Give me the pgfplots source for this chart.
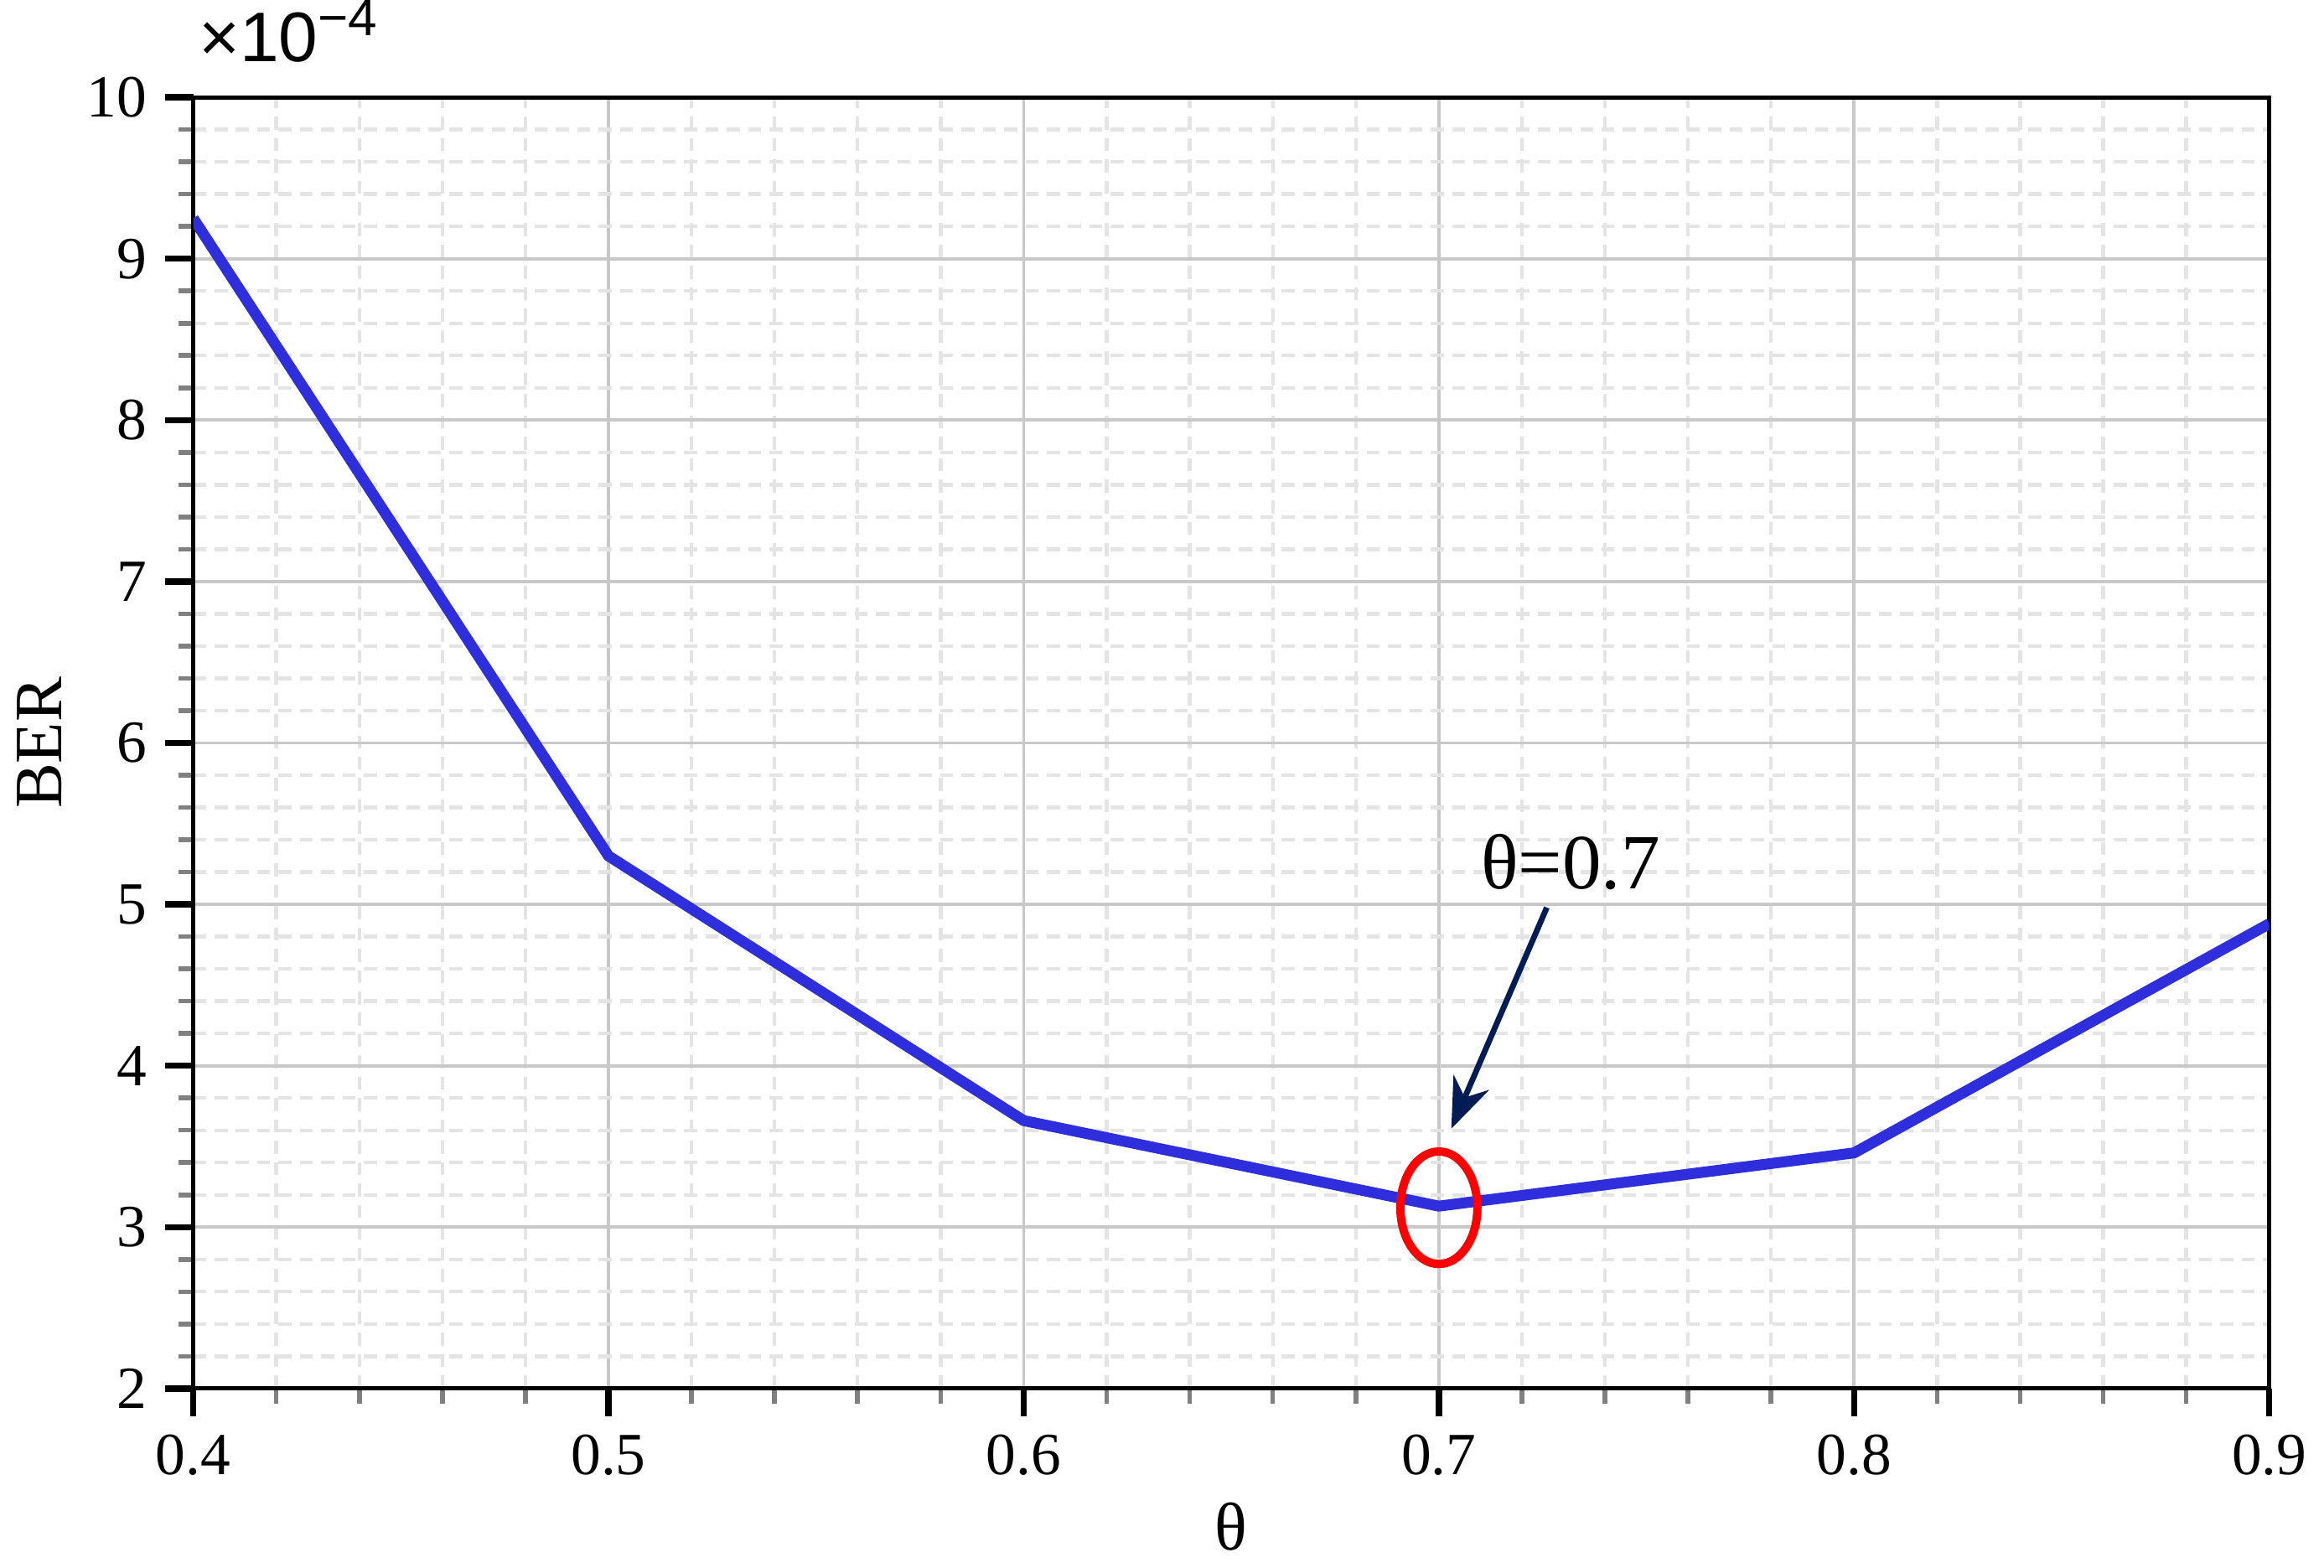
\documentclass[border=0pt]{standalone}
\usepackage{fontspec}
\setmainfont{Liberation Serif}
\newfontfamily\lsans{Liberation Sans}
\usepackage{pgfplots}
\pgfplotsset{compat=1.18}
\usetikzlibrary{arrows.meta}
\definecolor{lineblue}{RGB}{46,46,220}
\definecolor{arrownavy}{RGB}{0,28,84}
\definecolor{majgrid}{RGB}{200,200,200}
\definecolor{mingrid}{RGB}{228,228,228}
\definecolor{minortick}{RGB}{128,128,128}
\begin{document}
\begin{tikzpicture}
\begin{axis}[
  scale only axis, width=14.02cm, height=8.72cm,
  xmin=0.4, xmax=0.9, ymin=2e-4, ymax=10e-4,
  xtick={0.4,0.5,0.6,0.7,0.8,0.9},
  ytick={2e-4,3e-4,4e-4,5e-4,6e-4,7e-4,8e-4,9e-4,10e-4},
  scaled x ticks=false,
  scaled y ticks=base 10:4,
  ytick scale label code/.code={{\lsans\fontsize{13.5}{14}\selectfont ×10\raisebox{0.7ex}{\fontsize{10}{11}\selectfont −4}}},
  every y tick scale label/.style={at={(rel axis cs:0,1)}, anchor=base west, xshift=0.3mm, yshift=2.4mm, inner sep=0pt},
  axis line style={line width=0.8pt},
  tick align=outside, tick pos=left,
  major tick length=1.9mm, minor tick length=1mm,
  every major tick/.style={black, line width=1.2pt},
  every minor tick/.style={minortick, line width=0.9pt},
  minor x tick num=4, minor y tick num=4,
  grid=both,
  major grid style={majgrid, line width=0.6pt},
  minor grid style={mingrid, line width=0.7pt, dash pattern=on 2.5pt off 1.6pt},
  ticklabel style={font=\fontsize{11.5}{12}\selectfont},
  /pgf/number format/assume math mode=true,
  xlabel={θ}, ylabel={BER},
  label style={font=\fontsize{13}{14}\selectfont},
  xlabel style={at={(axis description cs:0.5,-0.1067)}, anchor=center},
  ylabel style={at={(axis description cs:-0.074,0.5)}, anchor=center},
]
\addplot[lineblue, line width=2.1pt, line join=round] coordinates {
  (0.4,9.25e-4) (0.5,5.30e-4) (0.6,3.66e-4) (0.7,3.13e-4) (0.8,3.46e-4) (0.9,4.88e-4)
};
\node[font=\fontsize{15}{16}\selectfont] at (axis cs:0.7317,5.26e-4) {θ=0.7};
\draw[arrownavy, line width=1.1pt, -{Stealth[length=3.4mm,width=2.6mm]}] (axis cs:0.726,4.98e-4) -- (axis cs:0.703,3.61e-4);
\draw[red, line width=1.6pt] (axis cs:0.7,3.12e-4) ellipse [x radius=0.26cm, y radius=0.38cm];
\end{axis}
\end{tikzpicture}
\end{document}
